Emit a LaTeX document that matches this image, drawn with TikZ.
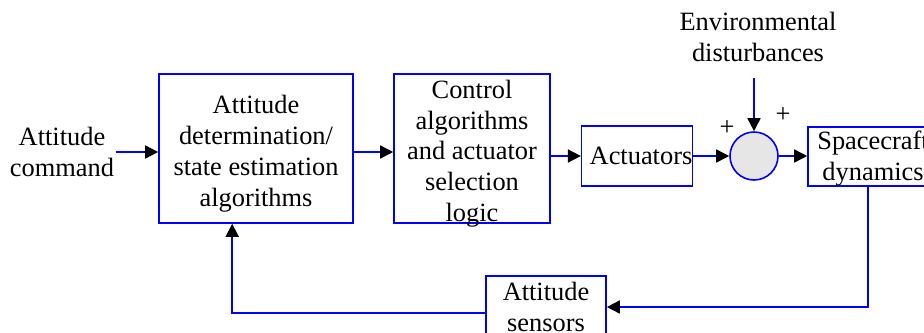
\documentclass[tikz,border=0pt]{standalone}
\usepackage{fontspec}
\setmainfont{Liberation Serif}
\usetikzlibrary{arrows.meta,positioning}
\definecolor{ACSBlue}{HTML}{0000FF}
\definecolor{ACSSum}{HTML}{E6E6E6}
\tikzset{
  acsbox/.style={
    draw=ACSBlue,
    fill=white,
    line width=0.8pt,
    inner sep=0pt,
    align=center,
    font=\fontsize{13.2}{15.4}\selectfont
  },
  acssum/.style={
    draw=ACSBlue,
    fill=ACSSum,
    circle,
    line width=0.8pt,
    minimum size=24pt,
    inner sep=0pt
  },
  acslabel/.style={
    inner sep=1pt,
    align=center,
    font=\fontsize{13.2}{15.4}\selectfont
  },
  acsflow/.style={-{Triangle[length=6.5pt,width=6.5pt,black]},draw=ACSBlue,line width=0.8pt}
}

\begin{document}
\begin{tikzpicture}[x=0.5pt,y={(0pt,-0.5pt)}]
  \useasboundingbox (0,0) rectangle (924,332);
  \node[acslabel] (cmd) at (62,152) {Attitude\\command};
  \node[acsbox,minimum width=97pt,minimum height=74.5pt,
    label={[acslabel,yshift=-2.5pt]center:{Attitude\\determination/\\state estimation\\algorithms}}] (det) at (256,148.5) {};
  \node[acsbox,minimum width=78pt,minimum height=74.5pt,
    label={[acslabel,yshift=-2.5pt]center:{Control\\algorithms\\and actuator\\selection\\logic}}] (ctrl) at (472,148.5) {};
  \node[acsbox,minimum width=52pt,minimum height=30pt,fill=none] (act) at (637,156) {\hspace*{4pt}Actuators};
  \node[acssum] (sum) at (754,156) {};
  \node[acsbox,minimum width=65pt,minimum height=29.5pt,
    label={[acslabel,yshift=-1.2pt]center:{Spacecraft\\dynamics}}] (dyn) at (873,156.5) {};
  \node[acsbox,minimum width=60pt,minimum height=31pt] (sens) at (546,307) {Attitude\\sensors};
  \node[acslabel] (env) at (758,37) {Environmental\\disturbances};
  \node[acslabel] (plusa) at (727,128) {+};
  \node[acslabel] (plusb) at (783,115) {+};
  \coordinate (envtip) at (754,78);
  % forward path
  \draw[acsflow] (cmd.east) -- (cmd.east -| det.west);
  \draw[acsflow] (det.east |- cmd.east) -- (ctrl.west |- cmd.east);
  \draw[acsflow] (ctrl.east |- act.west) -- (act.west);
  \draw[acsflow] (act.east) -- (sum.west);
  \draw[acsflow] (envtip) -- (sum.north);
  \draw[acsflow] (sum.east) -- (dyn.west |- sum.east);
  % feedback
  \draw[acsflow] ([xshift=-2.5pt]dyn.south) |- (sens.east);
  \draw[acsflow] ([yshift=-3pt]sens.west) -| ([xshift=37pt]det.south west);
\end{tikzpicture}
\end{document}
